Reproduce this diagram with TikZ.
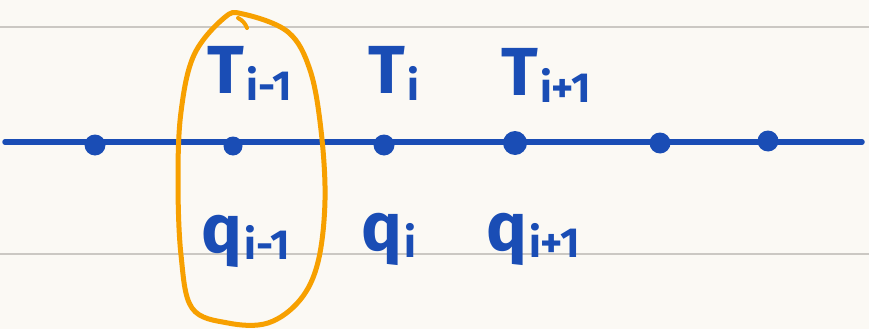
\documentclass[tikz,border=0pt]{standalone}
\usepackage{fontspec}
\setmainfont{Fira Sans}
\definecolor{paper}{HTML}{FBF9F4}
\definecolor{rule}{HTML}{CBC8C3}
\definecolor{ink}{HTML}{1A4DB5}
\definecolor{marker}{HTML}{F7A000}
\newcommand{\lbl}[2]{#1\kern2pt{\fontsize{42}{42}\selectfont\raisebox{-7pt}{#2}}}
\begin{document}
\begin{tikzpicture}[x=1pt,y=-1pt,
  dotnode/.style={circle,fill=ink,inner sep=0pt,minimum size=21pt},
  labnode/.style={text=ink,font=\fontsize{68}{68}\selectfont\bfseries,inner sep=0pt,anchor=base}]
\useasboundingbox (0,0) rectangle (869,329);
\fill[paper] (0,0) rectangle (869,329);
\draw[rule,line width=2pt] (0,27) -- (869,27);
\draw[rule,line width=2pt] (0,254) -- (869,254);
\coordinate (lineL) at (5,142);
\coordinate (lineR) at (862,142);
\draw[ink,line width=5.5pt,line cap=round] (lineL) -- (lineR);
\node[dotnode] (d1) at (95,145) {};
\node[dotnode,minimum size=19pt] (d2) at (233,146) {};
\node[dotnode] (d3) at (384,145) {};
\node[dotnode,minimum size=24pt] (d4) at (515,143) {};
\node[dotnode] (d5) at (660,143) {};
\node[dotnode] (d6) at (768,141) {};
\node[labnode] (T1) at (250,93) {\lbl{T}{i-1}};
\node[labnode] (T2) at (394,93) {\lbl{T}{i}};
\node[labnode] (T3) at (546,95) {\lbl{T}{i+1}};
\node[labnode] (q1) at (246,252) {\lbl{q}{i-1}};
\node[labnode] (q2) at (389,250) {\lbl{q}{i}};
\node[labnode] (q3) at (533,250) {\lbl{q}{i+1}};
\draw[marker,line width=5pt,line cap=round,line join=round]
  plot[smooth cycle,tension=0.6] coordinates {(243,14) (288,32) (310,70) (321,130) (325,200) (318,262) (300,300) (268,323) (228,323) (192,308) (181,255) (178,180) (181,112) (194,55) (224,18)};
\draw[marker,line width=4pt,line cap=round] (238,18) to[bend left=20] (247,28);
\end{tikzpicture}
\end{document}
